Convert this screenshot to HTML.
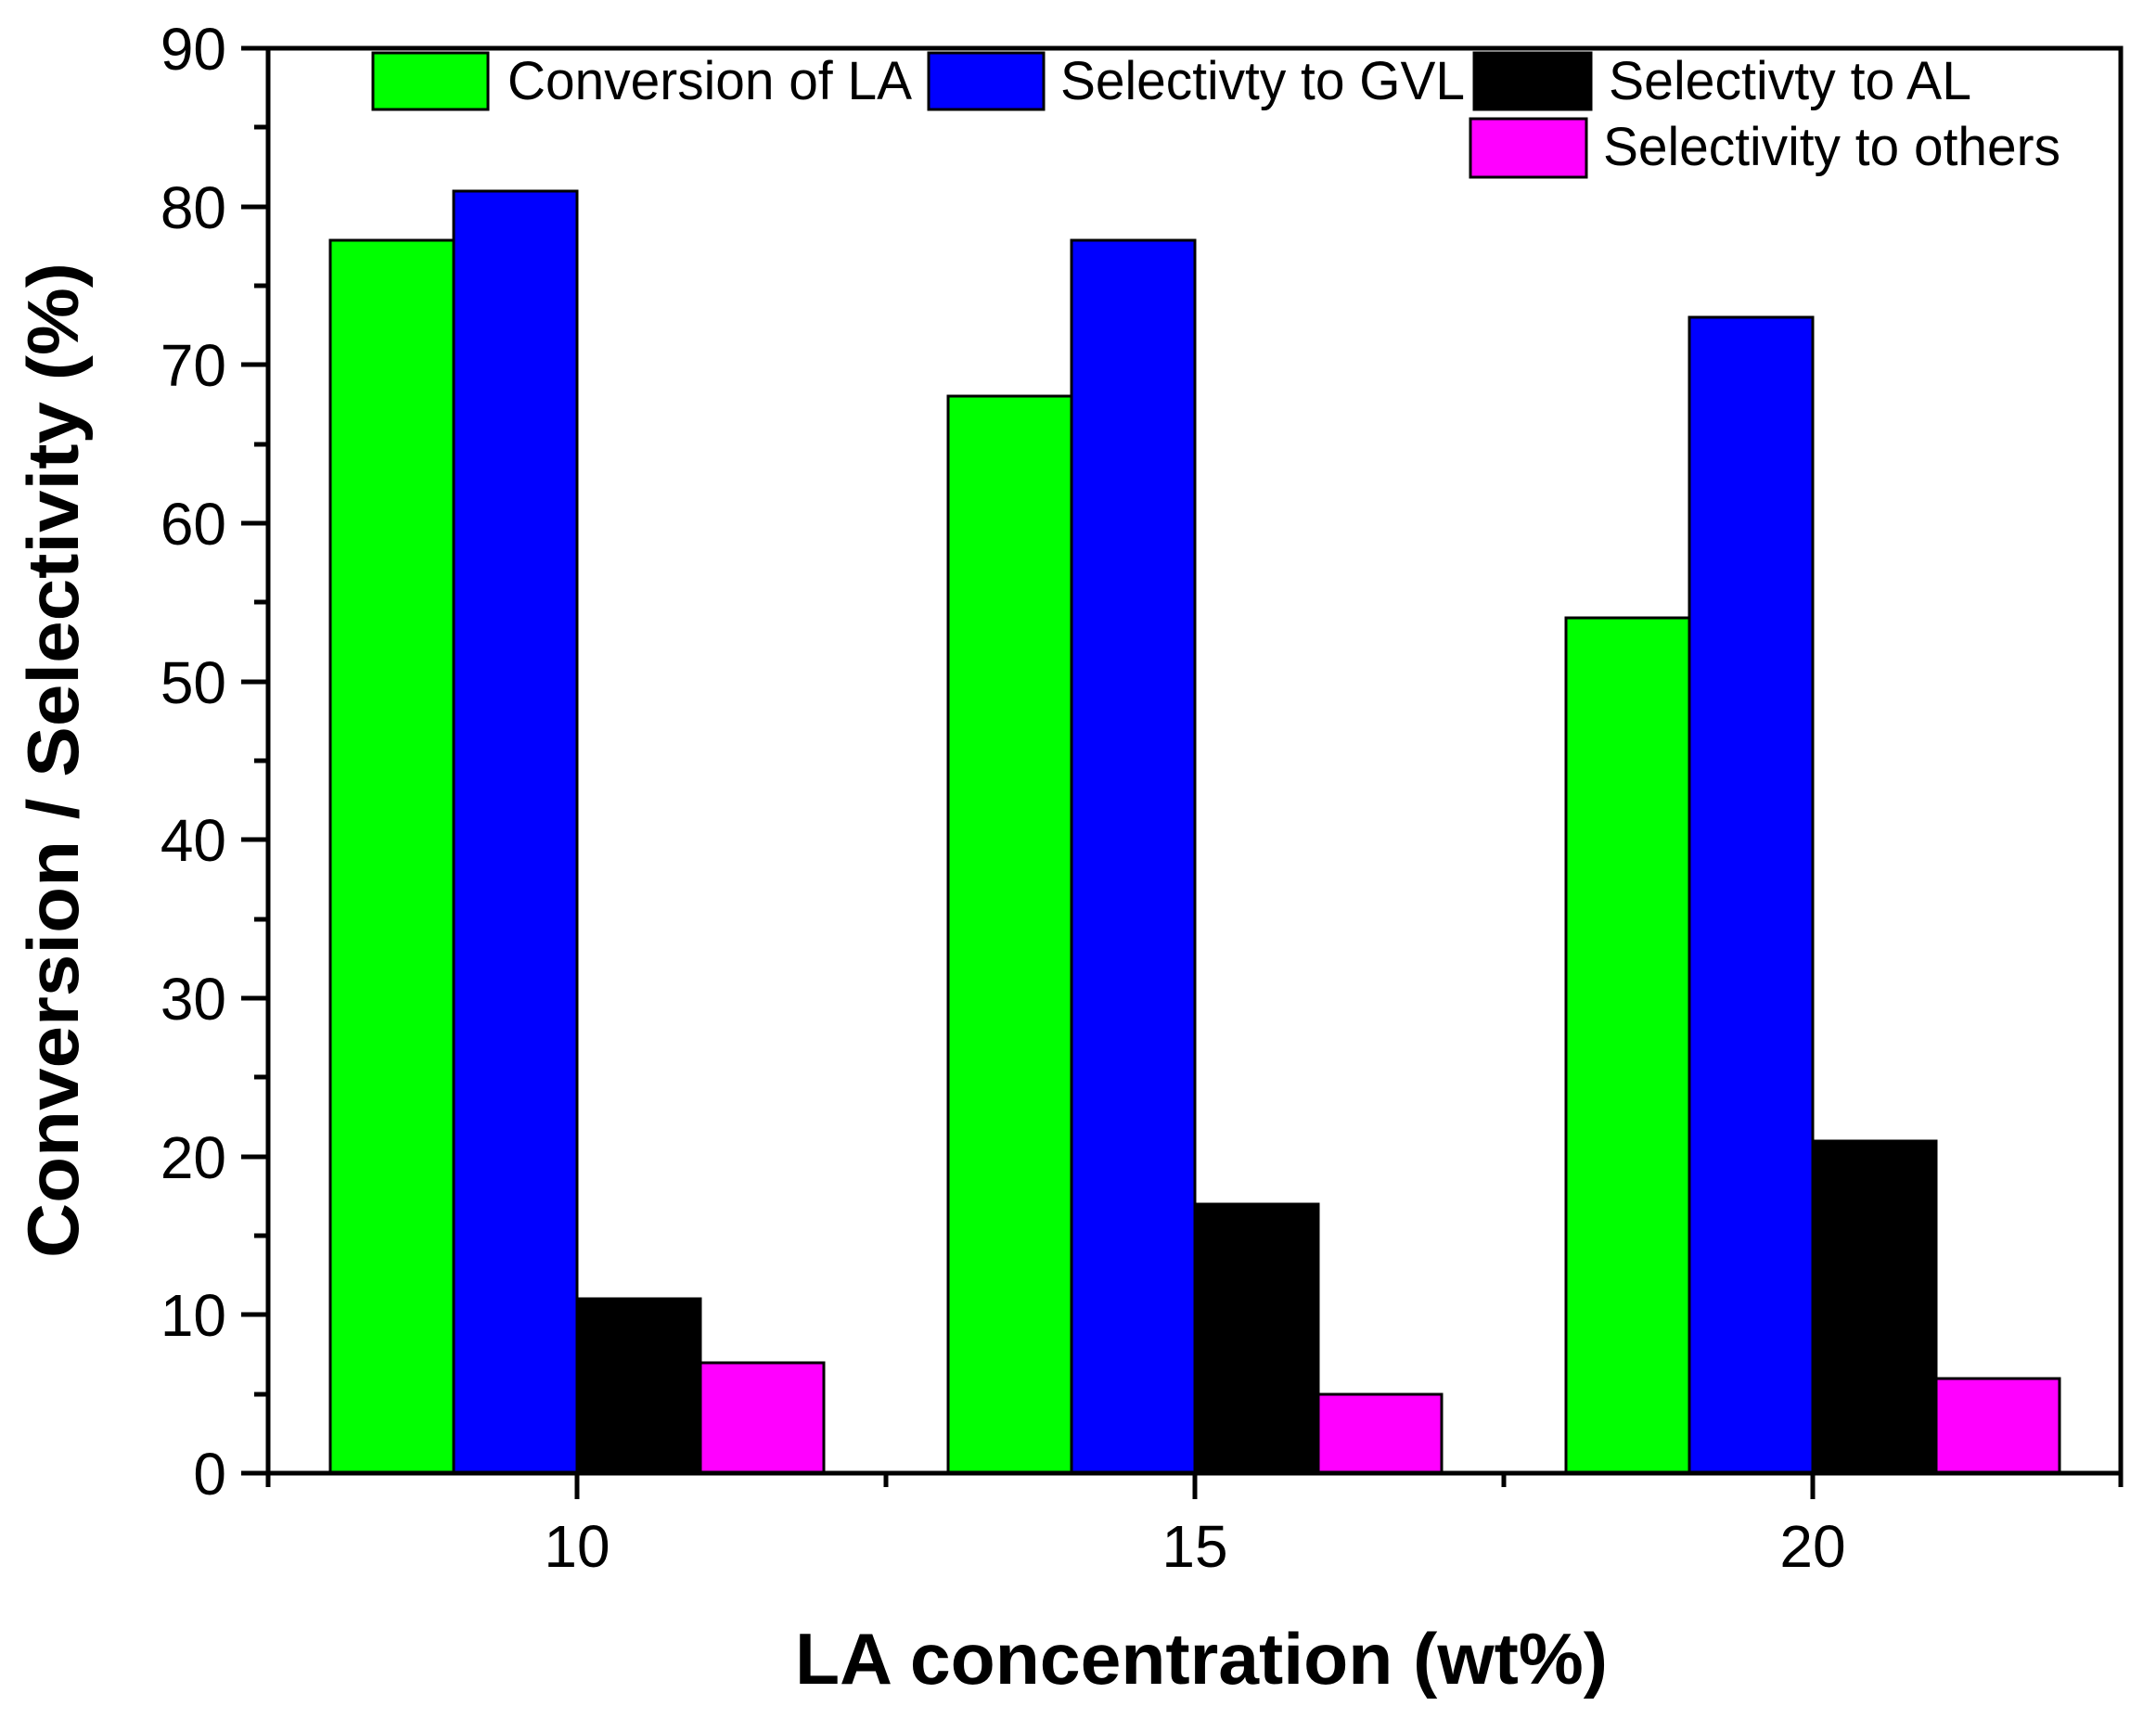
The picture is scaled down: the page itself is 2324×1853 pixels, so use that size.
<!DOCTYPE html>
<html><head><meta charset="utf-8"><style>html,body{margin:0;padding:0;background:#fff}</style></head>
<body>
<svg width="2324" height="1848" viewBox="0 0 2324 1848" xmlns="http://www.w3.org/2000/svg" font-family="Liberation Sans, sans-serif">
<rect width="2324" height="1848" fill="#fff"/>
<g stroke="#000" stroke-width="3">
<rect x="356" y="259" width="133" height="1329" fill="#00ff00"/>
<rect x="489" y="206" width="133" height="1382" fill="#0000ff"/>
<rect x="622" y="1400" width="133" height="188" fill="#000"/>
<rect x="755" y="1469" width="133" height="119" fill="#ff00ff"/>
<rect x="1022" y="427" width="133" height="1161" fill="#00ff00"/>
<rect x="1155" y="259" width="133" height="1329" fill="#0000ff"/>
<rect x="1288" y="1298" width="133" height="290" fill="#000"/>
<rect x="1421" y="1503" width="133" height="85" fill="#ff00ff"/>
<rect x="1688" y="666" width="133" height="922" fill="#00ff00"/>
<rect x="1821" y="342" width="133" height="1246" fill="#0000ff"/>
<rect x="1954" y="1230" width="133" height="358" fill="#000"/>
<rect x="2087" y="1486" width="133" height="102" fill="#ff00ff"/>
</g>
<rect x="289" y="52" width="1997" height="1536" fill="none" stroke="#000" stroke-width="5"/>
<g stroke="#000" stroke-width="5">
<line x1="260" y1="1588" x2="289" y2="1588"/><line x1="260" y1="1417" x2="289" y2="1417"/><line x1="260" y1="1247" x2="289" y2="1247"/><line x1="260" y1="1076" x2="289" y2="1076"/><line x1="260" y1="905" x2="289" y2="905"/><line x1="260" y1="735" x2="289" y2="735"/><line x1="260" y1="564" x2="289" y2="564"/><line x1="260" y1="393" x2="289" y2="393"/><line x1="260" y1="223" x2="289" y2="223"/><line x1="260" y1="52" x2="289" y2="52"/>
<line x1="274" y1="1503" x2="289" y2="1503"/><line x1="274" y1="1332" x2="289" y2="1332"/><line x1="274" y1="1161" x2="289" y2="1161"/><line x1="274" y1="991" x2="289" y2="991"/><line x1="274" y1="820" x2="289" y2="820"/><line x1="274" y1="649" x2="289" y2="649"/><line x1="274" y1="479" x2="289" y2="479"/><line x1="274" y1="308" x2="289" y2="308"/><line x1="274" y1="137" x2="289" y2="137"/>
<line x1="622" y1="1588" x2="622" y2="1616"/><line x1="1288" y1="1588" x2="1288" y2="1616"/><line x1="1954" y1="1588" x2="1954" y2="1616"/>
<line x1="289" y1="1588" x2="289" y2="1603"/><line x1="955" y1="1588" x2="955" y2="1603"/><line x1="1621" y1="1588" x2="1621" y2="1603"/><line x1="2286" y1="1588" x2="2286" y2="1603"/>
</g>
<g font-size="64" text-anchor="end">
<text x="244" y="1611">0</text><text x="244" y="1440">10</text><text x="244" y="1270">20</text><text x="244" y="1099">30</text><text x="244" y="928">40</text><text x="244" y="758">50</text><text x="244" y="587">60</text><text x="244" y="416">70</text><text x="244" y="246">80</text><text x="244" y="75">90</text>
</g>
<g font-size="64" text-anchor="middle">
<text x="622" y="1689">10</text><text x="1288" y="1689">15</text><text x="1954" y="1689">20</text>
</g>
<text x="857" y="1815" font-size="78" font-weight="bold" textLength="876" lengthAdjust="spacingAndGlyphs">LA concentration (wt%)</text>
<text transform="translate(84,1356) rotate(-90)" font-size="78" font-weight="bold" textLength="1073" lengthAdjust="spacingAndGlyphs">Conversion / Selectivity (%)</text>
<g stroke="#000" stroke-width="3">
<rect x="402" y="57" width="124" height="61" fill="#00ff00"/>
<rect x="1001" y="57" width="124" height="61" fill="#0000ff"/>
<rect x="1589" y="57" width="126" height="61" fill="#000"/>
<rect x="1585" y="128" width="125" height="63" fill="#ff00ff"/>
</g>
<g font-size="58">
<text x="547" y="107" textLength="436" lengthAdjust="spacingAndGlyphs">Conversion of LA</text>
<text x="1143" y="107" textLength="436" lengthAdjust="spacingAndGlyphs">Selectivty to GVL</text>
<text x="1734" y="107" textLength="391" lengthAdjust="spacingAndGlyphs">Selectivty to AL</text>
<text x="1728" y="178" textLength="493" lengthAdjust="spacingAndGlyphs">Selectivity to others</text>
</g>
</svg>
</body></html>
